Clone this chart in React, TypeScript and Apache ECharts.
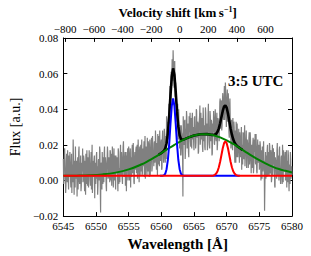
import React, { useEffect, useRef } from "react";
import * as echarts from "echarts";

// ---- data ----
const WL_START = 6545;
const WL_STEP = 0.1;
// observed spectrum (flux, a.u.), samples at 6545.0, 6545.1, ... 6580.0 Å
const greyFluxA = [
  0.012, 0.001, 0.018, 0.006, -0.003, 0.015, -0.001, 0.010, -0.005, 0.007,
  0.016, 0.000, 0.005, -0.007, 0.009, 0.023, 0.002, 0.011, -0.004, 0.004,
  0.008, -0.009, 0.013, 0.003, 0.019, -0.002, 0.007, -0.006, 0.010, 0.005,
  -0.001, 0.014, 0.002, 0.011, -0.008, 0.008, 0.017, -0.003, 0.006, 0.000,
  0.013, 0.003, 0.009, -0.005, 0.020, 0.001, 0.004, 0.012, -0.010, 0.010,
  0.003, 0.016, 0.008, -0.003, 0.012, 0.000, 0.017, -0.018, 0.009, -0.005,
  0.007, 0.013, -0.001, 0.019, 0.002, 0.007, -0.006, 0.012, 0.015, 0.002,
  0.011, -0.001, 0.016, 0.006, -0.003, 0.019, 0.004, 0.010, 0.000, 0.014,
  -0.005, 0.009, 0.013, 0.002, 0.018, -0.002, 0.007, 0.012, 0.003, 0.016,
  0.001, 0.009, 0.022, 0.002, 0.011, -0.003, 0.016, 0.006, 0.010, 0.000,
  0.019, 0.006, 0.014, -0.004, 0.013, 0.016, 0.004, 0.021, -0.001, 0.010,
  0.010, 0.017, 0.004, 0.020, 0.007, 0.014, -0.001, 0.019, 0.011, 0.005,
  0.023, 0.004, 0.014, 0.017, 0.002, 0.025, 0.009, 0.016, 0.003, 0.012,
  0.022, 0.009, 0.020, 0.003, 0.015, 0.024, 0.007, 0.017, 0.012, 0.021,
  0.010, 0.028, 0.012, 0.021, 0.003, 0.018, 0.025, 0.008, 0.017, 0.013,
  0.023, 0.007, 0.028, 0.016, 0.013, 0.026, 0.010, 0.025, 0.036, 0.021,
  0.033, 0.025, 0.039, 0.053, 0.046, 0.061, 0.053, 0.065, 0.073, 0.058,
  0.066, 0.047, 0.055, 0.042, 0.033, 0.043, 0.026, 0.031, 0.018, 0.026,
  0.018, 0.027, 0.014, -0.009, 0.029, 0.021, 0.034, 0.017, 0.026, 0.036,
  0.020, 0.032, 0.013, 0.027, 0.038, 0.019, 0.025, 0.034, 0.023, 0.030,
  0.017, 0.036, 0.029, 0.021, 0.039, 0.025, 0.032, 0.016, 0.033, 0.042,
  0.023, 0.028, 0.035, 0.019, 0.041, 0.022, 0.031, 0.017, 0.038, 0.026,
  0.032, 0.020, 0.043, 0.029, 0.018, 0.036, 0.024, 0.033, 0.015, 0.030,
  0.039, 0.021, 0.027, 0.034, 0.022, 0.038, 0.020, 0.034, 0.031, 0.022,
  0.046, 0.034, 0.043, 0.031, 0.049, 0.037, 0.046, 0.034, 0.055, 0.044,
  0.036, 0.051, 0.036, 0.042, 0.024, 0.046, 0.030, 0.023, 0.034, 0.017,
  0.027, 0.033, 0.018, 0.028, 0.010, 0.025, 0.032, 0.013, 0.021, 0.018,
  0.027, 0.013, 0.024, 0.006, 0.020, 0.027, 0.013, 0.024, 0.008, 0.017,
  0.028, 0.014, 0.021, 0.007, 0.024, 0.009, 0.027, 0.014, 0.018, 0.007,
  0.021, 0.004, 0.023, 0.016, 0.010, 0.026, 0.005, 0.017, 0.013, 0.020,
  0.006, 0.022, 0.009, 0.017, 0.001, 0.019, 0.013, 0.006, -0.017, 0.009,
  0.001, 0.014, 0.017, 0.003, 0.013, 0.003, 0.019, 0.005, 0.015, 0.001,
  0.020, 0.006, 0.009, 0.016, -0.004, 0.013, 0.007, 0.017, 0.003, 0.011,
  0.000, 0.019, 0.007, 0.003, 0.014, -0.002, 0.011, 0.017, 0.005, 0.012,
  0.000, 0.014, -0.004, 0.009, 0.017, 0.001, 0.008, -0.002, 0.012, 0.007, 0.003,
];
// observed spectrum, in-between samples at 6545.05, 6545.15, ... 6579.95 Å
const greyFluxB = [
  -0.002, 0.013, 0.007, -0.007, 0.011, 0.005, 0.017, 0.000, 0.014, 0.002,
  0.009, -0.004, 0.015, 0.006, -0.001, 0.012, -0.008, 0.008, 0.019, 0.001,
  0.011, 0.004, -0.005, 0.016, 0.000, 0.010, 0.014, -0.003, 0.007, 0.018,
  0.001, 0.012, -0.006, 0.009, 0.015, -0.002, 0.006, 0.013, -0.004, 0.017,
  0.004, -0.003, 0.016, 0.008, -0.007, 0.011, 0.002, 0.014, 0.007, -0.002,
  0.014, 0.001, -0.008, 0.011, 0.007, 0.019, -0.003, 0.010, 0.004, 0.016,
  -0.002, 0.009, 0.015, 0.002, 0.013, -0.003, 0.009, 0.019, 0.001, 0.013,
  0.008, 0.017, 0.000, 0.015, 0.005, 0.012, -0.004, 0.018, 0.010, 0.002,
  0.014, 0.004, 0.011, -0.006, 0.016, 0.007, -0.001, 0.020, 0.003, 0.012,
  -0.002, 0.019, 0.011, 0.002, 0.016, 0.007, -0.006, 0.014, 0.018, 0.004,
  0.014, 0.000, 0.018, 0.011, 0.002, 0.020, 0.007, 0.013, -0.002, 0.016,
  0.006, 0.019, 0.011, 0.001, 0.023, 0.008, 0.016, 0.003, 0.020, 0.013,
  0.003, 0.018, 0.008, 0.022, 0.015, 0.001, 0.019, 0.011, 0.024, 0.005,
  0.018, 0.002, 0.023, 0.011, 0.019, 0.005, 0.025, 0.014, 0.008, 0.022,
  0.012, 0.022, 0.006, 0.019, 0.026, 0.009, 0.017, 0.028, 0.011, 0.021,
  0.006, 0.024, 0.019, 0.010, 0.029, 0.016, 0.025, 0.012, 0.034, 0.030,
  0.023, 0.043, 0.035, 0.052, 0.042, 0.061, 0.068, 0.056, 0.065, 0.052,
  0.067, 0.048, 0.055, 0.035, 0.041, 0.023, 0.040, 0.024, 0.031, 0.014,
  0.031, 0.026, 0.016, 0.036, 0.020, 0.033, 0.012, 0.029, 0.039, 0.018,
  0.028, 0.016, 0.036, 0.031, 0.022, 0.035, 0.018, 0.038, 0.025, 0.020,
  0.035, 0.027, 0.018, 0.040, 0.024, 0.033, 0.015, 0.030, 0.036, 0.020,
  0.038, 0.023, 0.032, 0.016, 0.034, 0.029, 0.019, 0.041, 0.025, 0.031,
  0.017, 0.037, 0.028, 0.021, 0.039, 0.022, 0.034, 0.014, 0.032, 0.027,
  0.035, 0.020, 0.040, 0.024, 0.031, 0.017, 0.035, 0.032, 0.022, 0.044,
  0.029, 0.045, 0.028, 0.044, 0.042, 0.034, 0.053, 0.039, 0.050, 0.030,
  0.045, 0.033, 0.049, 0.027, 0.041, 0.033, 0.018, 0.034, 0.021, 0.035,
  0.021, 0.030, 0.010, 0.025, 0.033, 0.013, 0.025, 0.018, 0.029, 0.010,
  0.023, 0.015, 0.030, 0.019, 0.009, 0.026, 0.012, 0.031, 0.014, 0.023,
  0.007, 0.023, 0.019, 0.010, 0.027, 0.013, 0.023, 0.004, 0.020, 0.015,
  0.024, 0.007, 0.018, 0.026, 0.009, 0.015, 0.004, 0.023, 0.010, 0.019,
  0.008, 0.020, 0.000, 0.015, 0.019, 0.005, 0.022, 0.011, -0.003, 0.016,
  0.012, 0.002, 0.020, 0.007, 0.016, 0.021, 0.004, 0.017, -0.001, 0.013,
  0.003, 0.018, 0.011, -0.003, 0.013, 0.009, 0.001, 0.021, 0.006, 0.014,
  0.017, 0.003, -0.002, 0.013, 0.009, 0.020, -0.001, 0.011, 0.006, 0.016,
  0.003, 0.017, 0.011, -0.001, 0.014, -0.006, 0.009, 0.016, 0.001, 0.008,
];

// total fit (black)
const blackWl = [
  6559.6, 6560.0, 6560.2, 6560.4, 6560.6, 6560.8, 6561.0, 6561.2, 6561.4, 6561.6,
  6561.8, 6562.0, 6562.2, 6562.4, 6562.6, 6562.8, 6563.0, 6563.2, 6563.4, 6564.0,
  6565.0, 6566.0, 6567.0, 6567.6, 6568.0, 6568.2, 6568.4, 6568.6, 6568.8, 6569.0,
  6569.2, 6569.4, 6569.6, 6569.8, 6570.0, 6570.2, 6570.4, 6570.6, 6570.8, 6571.0,
  6571.2, 6571.4, 6571.6, 6571.8, 6572.0, 6572.4,
];
const blackFlux = [
  0.0145, 0.0154, 0.0160, 0.0166, 0.0180, 0.0209, 0.0266, 0.0360, 0.0479, 0.0584,
  0.0629, 0.0593, 0.0497, 0.0386, 0.0302, 0.0254, 0.0233, 0.0228, 0.0229, 0.0239,
  0.0252, 0.0259, 0.0260, 0.0256, 0.0256, 0.0258, 0.0262, 0.0273, 0.0292, 0.0321,
  0.0356, 0.0390, 0.0415, 0.0421, 0.0408, 0.0376, 0.0334, 0.0292, 0.0257, 0.0231,
  0.0213, 0.0202, 0.0193, 0.0188, 0.0182, 0.0172,
];

// broad component (green)
const greenWl = [
  6545, 6547, 6549, 6551, 6553, 6555, 6557, 6558, 6559, 6560, 6561, 6562, 6563,
  6564, 6565, 6566, 6567, 6568, 6569, 6570, 6571, 6572, 6573, 6574, 6575, 6576,
  6577, 6578, 6579, 6580,
];
const greenFlux = [
  0.0026, 0.0027, 0.0029, 0.0034, 0.0044, 0.0062, 0.0091, 0.0110, 0.0131, 0.0154,
  0.0177, 0.0200, 0.0221, 0.0239, 0.0252, 0.0259, 0.0260, 0.0254, 0.0242, 0.0225,
  0.0205, 0.0182, 0.0158, 0.0135, 0.0114, 0.0095, 0.0078, 0.0064, 0.0054, 0.0045,
];

// narrow component (blue)
const blueWl = [
  6559.8, 6560.0, 6560.2, 6560.4, 6560.6, 6560.8, 6561.0, 6561.2, 6561.4, 6561.6,
  6561.8, 6562.0, 6562.2, 6562.4, 6562.6, 6562.8, 6563.0, 6563.2, 6563.4, 6563.6,
  6572.0,
];
const blueFlux = [
  0.0026, 0.0026, 0.0027, 0.0029, 0.0038, 0.0063, 0.0115, 0.0204, 0.0319, 0.0419,
  0.0460, 0.0419, 0.0319, 0.0204, 0.0115, 0.0063, 0.0038, 0.0029, 0.0027, 0.0026,
  0.0026,
];

// narrow component (red)
const redWl = [
  6545, 6567.6, 6567.8, 6568.0, 6568.2, 6568.4, 6568.6, 6568.8, 6569.0, 6569.2,
  6569.4, 6569.6, 6569.8, 6570.0, 6570.2, 6570.4, 6570.6, 6570.8, 6571.0, 6571.2,
  6571.4, 6571.6, 6571.8, 6572.0, 6580,
];
const redFlux = [
  0.0026, 0.0026, 0.0027, 0.0028, 0.0032, 0.0039, 0.0052, 0.0074, 0.0105, 0.0143,
  0.0181, 0.0209, 0.0219, 0.0209, 0.0181, 0.0143, 0.0105, 0.0074, 0.0052, 0.0039,
  0.0032, 0.0028, 0.0027, 0.0026, 0.0026,
];

const velocityTicks = [-800, -600, -400, -200, 0, 200, 400, 600];
const WL_MIN = 6545;
const WL_MAX = 6580;
const FLUX_MIN = -0.02;
const FLUX_MAX = 0.08;
const C_KMS = 299792.458;
const LINE_CENTER = 6562.8;
const annotation = "3:5 UTC";

const SERIF = "Liberation Serif";
const minus = (s: string) => s.replace("-", "\u2212");

export default function App() {
  const ref = useRef<HTMLDivElement>(null);
  useEffect(() => {
    document.body.style.margin = "0";
    if (!ref.current) return;
    const chart = echarts.init(ref.current, undefined, { renderer: "svg" });
    const velMin = (C_KMS * (WL_MIN - LINE_CENTER)) / LINE_CENTER;
    const velMax = (C_KMS * (WL_MAX - LINE_CENTER)) / LINE_CENTER;
    const greyData: number[][] = [];
    greyFluxA.forEach((f, i) => {
      greyData.push([WL_START + i * WL_STEP, f]);
      if (i < greyFluxB.length) greyData.push([WL_START + (i + 0.5) * WL_STEP, greyFluxB[i]]);
    });
    const pair = (xs: number[], ys: number[]) => xs.map((x, i) => [x, ys[i]]);
    const axisLine = { show: true, onZero: false, lineStyle: { color: "#000", width: 1 } };
    const tick = { show: true, inside: true, length: 4, lineStyle: { color: "#000", width: 1 } };
    const label = { color: "#000", fontFamily: SERIF, fontSize: 11, fontWeight: "normal" };
    const lineSeries = (data: any, color: string, width: number, z: number, smooth: any = false) => ({
      type: "line",
      data,
      showSymbol: false,
      symbol: "none",
      smooth,
      z,
      lineStyle: { color, width },
      silent: true,
    });
    chart.setOption({
      animation: false,
      backgroundColor: "#fff",
      textStyle: { fontFamily: SERIF, color: "#000" },
      grid: { left: 61, right: 19, top: 29, bottom: 37, containLabel: false },
      xAxis: [
        {
          type: "value",
          min: WL_MIN,
          max: WL_MAX,
          interval: 5,
          position: "bottom",
          axisLine,
          axisTick: tick,
          axisLabel: { ...label, margin: 4, formatter: (v: number) => String(v) },
          splitLine: { show: false },
          name: "Wavelength [Å]",
          nameLocation: "middle",
          nameGap: 16,
          nameTextStyle: { color: "#000", fontFamily: SERIF, fontSize: 15, fontWeight: "bold" },
        },
        {
          type: "value",
          min: velMin,
          max: velMax,
          position: "top",
          axisLine,
          axisTick: { ...tick, customValues: velocityTicks },
          axisLabel: {
            ...label,
            margin: 3,
            customValues: velocityTicks,
            formatter: (v: number) => minus(String(Math.round(v))),
          },
          splitLine: { show: false },
          name: "{t|Velocity shift [km\u2009s}{s|\u22121}{t|]}",
          nameLocation: "middle",
          nameGap: 12,
          nameTextStyle: {
            fontFamily: SERIF,
            rich: {
              t: { color: "#000", fontFamily: SERIF, fontSize: 13, fontWeight: "bold", lineHeight: 14, verticalAlign: "bottom" },
              s: { color: "#000", fontFamily: SERIF, fontSize: 8, fontWeight: "bold", lineHeight: 14, verticalAlign: "top" },
            },
          },
        },
      ],
      yAxis: [
        {
          type: "value",
          min: FLUX_MIN,
          max: FLUX_MAX,
          interval: 0.02,
          position: "left",
          axisLine,
          axisTick: tick,
          axisLabel: { ...label, margin: 5, formatter: (v: number) => minus(v.toFixed(2)) },
          splitLine: { show: false },
          name: "Flux [a.u.]",
          nameLocation: "middle",
          nameGap: 41,
          nameTextStyle: { color: "#000", fontFamily: SERIF, fontSize: 14 },
        },
        {
          type: "value",
          min: FLUX_MIN,
          max: FLUX_MAX,
          interval: 0.02,
          position: "right",
          axisLine,
          axisTick: tick,
          axisLabel: { show: false },
          splitLine: { show: false },
        },
      ],
      series: [
        lineSeries(greyData, "#808080", 1.2, 1),
        lineSeries(pair(blackWl, blackFlux), "#000000", 2.6, 2),
        lineSeries(pair(greenWl, greenFlux), "#008000", 2, 3, 0.4),
        lineSeries(pair(blueWl, blueFlux), "#0000ff", 2, 4),
        lineSeries(pair(redWl, redFlux), "#ff0000", 2, 5),
      ],
      graphic: [
        {
          type: "text",
          left: 228,
          top: 73,
          style: { text: annotation, fill: "#000", font: `bold 15px ${SERIF}` },
          z: 10,
        },
      ],
    });
    return () => chart.dispose();
  }, []);
  return <div ref={ref} style={{ position: "fixed", left: 0, top: 0, width: 311, height: 256 }} />;
}
